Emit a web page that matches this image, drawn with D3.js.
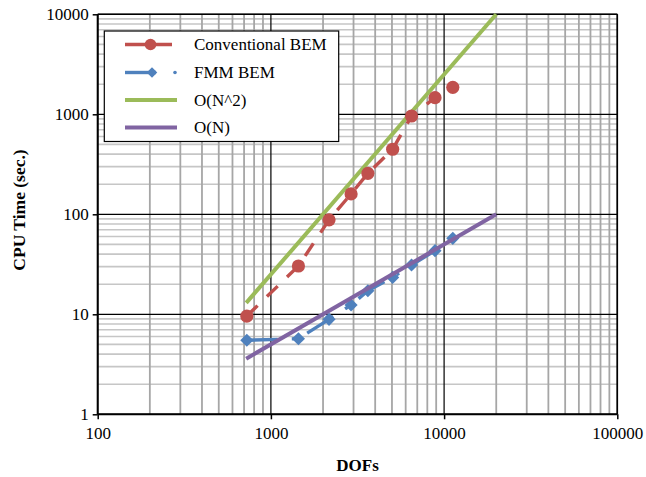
<!DOCTYPE html>
<html><head><meta charset="utf-8">
<script src="https://cdn.jsdelivr.net/npm/d3@7"></script>
<style>
html,body{margin:0;padding:0;background:#fff;}
text{font-family:"Liberation Serif","Times New Roman",serif;}
</style></head>
<body><svg id="c" width="646" height="477"></svg>
<script>
const dofs = [726, 1442, 2166, 2904, 3630, 5046, 6486, 8862, 11226];
const conventionalBEM = [9.6, 30.4, 88, 160, 257, 447, 962, 1466, 1862];
const fmmBEM = [5.5, 5.7, 8.9, 12.4, 17.2, 23.4, 31.1, 43.3, 57.5];
const refN = [720, 20000];
const orderN2 = [13, 10000];
const orderN = [3.6, 100];
const xTicks = [100, 1000, 10000, 100000];
const yTicks = [1, 10, 100, 1000, 10000];
const seriesNames = ["Conventional BEM", "FMM BEM", "O(N^2)", "O(N)"];
const colors = ["#C0504D", "#4F81BD", "#9BBB59", "#8064A2"];

const svg = d3.select("#c");
const L = 97.7, R = 617.3, T = 14.3, B = 414.3;
const x = d3.scaleLog().domain([100, 100000]).range([L, R]);
const y = d3.scaleLog().domain([1, 10000]).range([B, T]);

// minor gridlines
const minors = d => { const a = []; for (let e = d[0]; e < d[1]; e *= 10) for (let k = 2; k <= 9; k++) a.push(e * k); return a; };
const g = svg.append("g");
g.selectAll(".hm").data(minors([1, 10000])).enter().append("line")
  .attr("x1", L).attr("x2", R).attr("y1", d => y(d)).attr("y2", d => y(d))
  .attr("stroke", "#C6C6C6").attr("stroke-width", 1.6);
g.selectAll(".vm").data(minors([100, 100000])).enter().append("line")
  .attr("y1", T).attr("y2", B).attr("x1", d => x(d)).attr("x2", d => x(d))
  .attr("stroke", "#A6A6A6").attr("stroke-width", 1.8);
g.selectAll(".hM").data(yTicks).enter().append("line")
  .attr("x1", L).attr("x2", R).attr("y1", d => y(d)).attr("y2", d => y(d))
  .attr("stroke", "#000").attr("stroke-width", 1.2);
g.selectAll(".vM").data(xTicks).enter().append("line")
  .attr("y1", T).attr("y2", B).attr("x1", d => x(d)).attr("x2", d => x(d))
  .attr("stroke", "#000").attr("stroke-width", 1.2);

// axes
const xa = svg.append("g").attr("transform", `translate(0,${B})`)
  .call(d3.axisBottom(x).tickValues(xTicks).tickFormat(d3.format("d")).tickSize(5).tickPadding(8));
const ya = svg.append("g").attr("transform", `translate(${L},0)`)
  .call(d3.axisLeft(y).tickValues(yTicks).tickFormat(d3.format("d")).tickSize(5).tickPadding(4));
[xa, ya].forEach(a => {
  a.select(".domain").attr("stroke", "#000").attr("stroke-width", 2);
  a.selectAll(".tick line").attr("stroke", "#000").attr("stroke-width", 1.5);
  a.selectAll("text").attr("font-size", 17).attr("fill", "#000")
    .style("font-family", '"Liberation Serif","Times New Roman",serif');
});
xa.select(".domain").attr("d", `M${L},0H${R}`);
ya.select(".domain").attr("d", `M0,${T}V${B}`);
// top and right borders
svg.append("line").attr("x1", L).attr("x2", R).attr("y1", T).attr("y2", T).attr("stroke", "#000").attr("stroke-width", 1.6);
svg.append("line").attr("x1", R).attr("x2", R).attr("y1", T).attr("y2", B).attr("stroke", "#000").attr("stroke-width", 1.6);

// series
const line = d3.line().x(d => x(d[0])).y(d => y(d[1]));
const convPts = dofs.map((d, i) => [d, conventionalBEM[i]]);
const fmmPts = dofs.map((d, i) => [d, fmmBEM[i]]);
const n2Pts = refN.map((d, i) => [d, orderN2[i]]);
const nPts = refN.map((d, i) => [d, orderN[i]]);

svg.append("path").datum(n2Pts).attr("d", line).attr("fill", "none")
  .attr("stroke", colors[2]).attr("stroke-width", 4);

svg.append("path").datum(convPts).attr("d", line).attr("fill", "none")
  .attr("stroke", colors[0]).attr("stroke-width", 3.4).attr("stroke-dasharray", "15,13");
svg.selectAll(".cm").data(convPts).enter().append("circle")
  .attr("cx", d => x(d[0])).attr("cy", d => y(d[1])).attr("r", 6.6).attr("fill", colors[0]);

svg.append("path").datum(fmmPts).attr("d", line).attr("fill", "none")
  .attr("stroke", colors[1]).attr("stroke-width", 3.4).attr("stroke-dasharray", "31,14,3,14");
const diamond = d3.symbol().type(d3.symbolDiamond2).size(110);
svg.selectAll(".fm").data(fmmPts).enter().append("path")
  .attr("d", diamond).attr("transform", d => `translate(${x(d[0])},${y(d[1])})`).attr("fill", colors[1]);

svg.append("path").datum(nPts).attr("d", line).attr("fill", "none")
  .attr("stroke", colors[3]).attr("stroke-width", 4);

// legend
const lg = svg.append("g");
lg.append("rect").attr("x", 104.3).attr("y", 31).attr("width", 234.4).attr("height", 110.5)
  .attr("fill", "#fff").attr("stroke", "#000").attr("stroke-width", 1.2);
const rowsY = [44.5, 72.5, 100, 127.5];
seriesNames.forEach((name, i) => {
  const yy = rowsY[i];
  if (i === 0) {
    lg.append("line").attr("x1", 125).attr("x2", 172).attr("y1", yy).attr("y2", yy)
      .attr("stroke", colors[0]).attr("stroke-width", 3.4);
    lg.append("circle").attr("cx", 150.5).attr("cy", yy).attr("r", 5.8).attr("fill", colors[0]);
  } else if (i === 1) {
    lg.append("line").attr("x1", 125).attr("x2", 156).attr("y1", yy).attr("y2", yy)
      .attr("stroke", colors[1]).attr("stroke-width", 3.4);
    lg.append("path").attr("d", d3.symbol().type(d3.symbolDiamond2).size(70)).attr("transform", `translate(152,${yy})`).attr("fill", colors[1]);
    lg.append("circle").attr("cx", 175).attr("cy", yy).attr("r", 1.8).attr("fill", colors[1]);
  } else {
    lg.append("line").attr("x1", 125).attr("x2", 177).attr("y1", yy).attr("y2", yy)
      .attr("stroke", colors[i]).attr("stroke-width", 4);
  }
  lg.append("text").attr("x", 194).attr("y", yy).attr("dy", "0.35em")
    .attr("font-size", 17).attr("fill", "#000").text(name);
});

// axis titles
svg.append("text").attr("x", 357.5).attr("y", 471).attr("text-anchor", "middle")
  .attr("font-size", 17).attr("font-weight", "bold").text("DOFs");
svg.append("text").attr("transform", "translate(25,210) rotate(-90)").attr("text-anchor", "middle")
  .attr("font-size", 17.5).attr("font-weight", "bold").text("CPU Time (sec.)");
</script></body></html>
